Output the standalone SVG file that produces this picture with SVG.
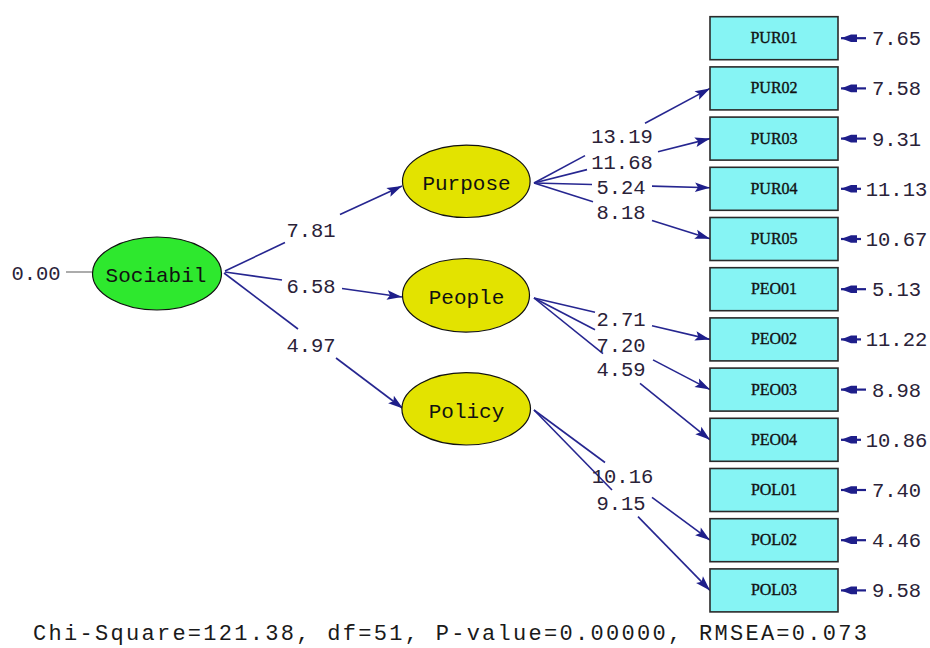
<svg xmlns="http://www.w3.org/2000/svg" width="930" height="648" viewBox="0 0 930 648">
<defs>
<marker id="ah" markerUnits="userSpaceOnUse" markerWidth="18" markerHeight="12" refX="16" refY="6" orient="auto" viewBox="0 0 18 12">
<path d="M16,6 L1,1.2 L4,6 L1,10.8 Z" fill="#1e1e8a"/>
</marker>
<marker id="eh" markerUnits="userSpaceOnUse" markerWidth="20" markerHeight="12" refX="18" refY="6" orient="auto" viewBox="0 0 20 12">
<path d="M18,6 L8,2.2 L2,2.2 L2,9.8 L8,9.8 Z" fill="#1e1e8a"/>
</marker>
<style>
.lv{fill:#e3e300;stroke:#111;stroke-width:1.2}
.ex{fill:#2ee82e;stroke:#111;stroke-width:1.2}
.bx{fill:#86f4f4;stroke:#2a2a2a;stroke-width:1.6}
.lt{font-family:"Liberation Mono","DejaVu Sans Mono",monospace;font-size:21px;fill:#111;text-anchor:middle}
.bt{font-family:"Liberation Serif","DejaVu Serif",serif;font-size:16px;fill:#111;stroke:#111;stroke-width:0.35;text-anchor:middle}
.nm{font-family:"Liberation Mono","DejaVu Sans Mono",monospace;font-size:20.5px;fill:#2a2238;text-anchor:middle}
.ln{stroke:#262690;stroke-width:1.6;fill:none}
.ar{stroke:#262690;stroke-width:1.6;fill:none;marker-end:url(#ah)}
.er{stroke:#1e1e8a;stroke-width:2.2;fill:none;marker-end:url(#eh)}
</style>
</defs>
<rect x="0" y="0" width="930" height="648" fill="#ffffff"/>

<g id="connectors">
<line x1="66" y1="272" x2="92" y2="272" stroke="#888" stroke-width="1.4"/>
<line class="ln" x1="225" y1="271" x2="285" y2="242.5"/>
<line class="ar" x1="340" y1="214.5" x2="402" y2="186"/>
<line class="ln" x1="225" y1="272" x2="282" y2="280"/>
<line class="ar" x1="342" y1="288.5" x2="402" y2="297"/>
<line class="ln" x1="224" y1="273" x2="298" y2="329"/>
<line class="ar" x1="336" y1="358" x2="403" y2="408.5"/>

<line class="ln" x1="534" y1="183" x2="585" y2="155.6"/>
<line class="ar" x1="645" y1="123.3" x2="710" y2="88.4"/>
<line class="ln" x1="534" y1="183" x2="587" y2="169.6"/>
<line class="ar" x1="658" y1="151.7" x2="710" y2="138.6"/>
<line class="ln" x1="534" y1="183" x2="592" y2="184.5"/>
<line class="ar" x1="652" y1="186.1" x2="710" y2="187.7"/>
<line class="ln" x1="534" y1="183" x2="593" y2="201.7"/>
<line class="ar" x1="652" y1="220.4" x2="710" y2="238.8"/>

<line class="ln" x1="534" y1="298" x2="595" y2="312.3"/>
<line class="ar" x1="652" y1="325.7" x2="710" y2="339.4"/>
<line class="ln" x1="534" y1="298" x2="595" y2="329.7"/>
<line class="ar" x1="653" y1="359.9" x2="710" y2="389.6"/>
<line class="ln" x1="534" y1="298" x2="603" y2="353.6"/>
<line class="ar" x1="640" y1="383.4" x2="710" y2="439.8"/>

<line class="ln" x1="534" y1="410" x2="605" y2="462.5"/>
<line class="ar" x1="652" y1="497.3" x2="710" y2="540.2"/>
<line class="ln" x1="534" y1="410" x2="612" y2="490"/>
<line class="ar" x1="638" y1="516.6" x2="710" y2="590.4"/>

<line class="er" x1="866" y1="38.2" x2="841" y2="38.2"/>
<line class="er" x1="866" y1="88.4" x2="841" y2="88.4"/>
<line class="er" x1="866" y1="138.6" x2="841" y2="138.6"/>
<line class="er" x1="861" y1="188.8" x2="841" y2="188.8"/>
<line class="er" x1="861" y1="239" x2="841" y2="239"/>
<line class="er" x1="866" y1="289.2" x2="841" y2="289.2"/>
<line class="er" x1="861" y1="339.4" x2="841" y2="339.4"/>
<line class="er" x1="866" y1="389.6" x2="841" y2="389.6"/>
<line class="er" x1="861" y1="439.8" x2="841" y2="439.8"/>
<line class="er" x1="866" y1="490" x2="841" y2="490"/>
<line class="er" x1="866" y1="540.2" x2="841" y2="540.2"/>
<line class="er" x1="866" y1="590.4" x2="841" y2="590.4"/>

<text class="nm" x="36" y="280">0.00</text>
<text class="nm" x="311" y="237">7.81</text>
<text class="nm" x="311" y="292.5">6.58</text>
<text class="nm" x="311" y="351.5">4.97</text>
<text class="nm" x="622" y="143">13.19</text>
<text class="nm" x="622" y="169">11.68</text>
<text class="nm" x="621" y="194">5.24</text>
<text class="nm" x="621" y="219">8.18</text>
<text class="nm" x="621" y="326">2.71</text>
<text class="nm" x="621" y="351.5">7.20</text>
<text class="nm" x="621" y="376">4.59</text>
<text class="nm" x="622.5" y="483">10.16</text>
<text class="nm" x="621" y="510">9.15</text>

<text class="nm" x="896.5" y="45.2">7.65</text>
<text class="nm" x="896.5" y="95.4">7.58</text>
<text class="nm" x="896.5" y="145.6">9.31</text>
<text class="nm" x="896.5" y="195.8">11.13</text>
<text class="nm" x="896.5" y="246">10.67</text>
<text class="nm" x="896.5" y="296.2">5.13</text>
<text class="nm" x="896.5" y="346.4">11.22</text>
<text class="nm" x="896.5" y="396.6">8.98</text>
<text class="nm" x="896.5" y="446.8">10.86</text>
<text class="nm" x="896.5" y="497">7.40</text>
<text class="nm" x="896.5" y="547.2">4.46</text>
<text class="nm" x="896.5" y="597.4">9.58</text>
</g>

<g id="Sociabil"><ellipse class="ex" cx="157" cy="273.5" rx="64.5" ry="36.5"/><text class="lt" x="156" y="281.5">Sociabil</text></g>
<g id="Purpose"><ellipse class="lv" cx="466.3" cy="181.3" rx="63.8" ry="36.2"/><text class="lt" x="466.5" y="189.5">Purpose</text></g>
<g id="People"><ellipse class="lv" cx="466" cy="295.3" rx="63.5" ry="36.8"/><text class="lt" x="466.5" y="304">People</text></g>
<g id="Policy"><ellipse class="lv" cx="466.2" cy="408.8" rx="64.3" ry="36.2"/><text class="lt" x="466.5" y="418">Policy</text></g>

<g id="PUR01"><rect class="bx" x="710" y="16.7" width="128" height="43"/><text class="bt" x="774" y="43.2">PUR01</text></g>
<g id="PUR02"><rect class="bx" x="710" y="66.9" width="128" height="43"/><text class="bt" x="774" y="93.4">PUR02</text></g>
<g id="PUR03"><rect class="bx" x="710" y="117.1" width="128" height="43"/><text class="bt" x="774" y="143.6">PUR03</text></g>
<g id="PUR04"><rect class="bx" x="710" y="167.3" width="128" height="43"/><text class="bt" x="774" y="193.8">PUR04</text></g>
<g id="PUR05"><rect class="bx" x="710" y="217.5" width="128" height="43"/><text class="bt" x="774" y="244">PUR05</text></g>
<g id="PEO01"><rect class="bx" x="710" y="267.7" width="128" height="43"/><text class="bt" x="774" y="294.2">PEO01</text></g>
<g id="PEO02"><rect class="bx" x="710" y="317.9" width="128" height="43"/><text class="bt" x="774" y="344.4">PEO02</text></g>
<g id="PEO03"><rect class="bx" x="710" y="368.1" width="128" height="43"/><text class="bt" x="774" y="394.6">PEO03</text></g>
<g id="PEO04"><rect class="bx" x="710" y="418.3" width="128" height="43"/><text class="bt" x="774" y="444.8">PEO04</text></g>
<g id="POL01"><rect class="bx" x="710" y="468.5" width="128" height="43"/><text class="bt" x="774" y="495">POL01</text></g>
<g id="POL02"><rect class="bx" x="710" y="518.7" width="128" height="43"/><text class="bt" x="774" y="545.2">POL02</text></g>
<g id="POL03"><rect class="bx" x="710" y="568.9" width="128" height="43"/><text class="bt" x="774" y="595.4">POL03</text></g>

<text x="33" y="640" font-family="'Liberation Mono','DejaVu Sans Mono',monospace" font-size="22" fill="#1a1a1a" textLength="834" lengthAdjust="spacing">Chi-Square=121.38, df=51, P-value=0.00000, RMSEA=0.073</text>
</svg>
